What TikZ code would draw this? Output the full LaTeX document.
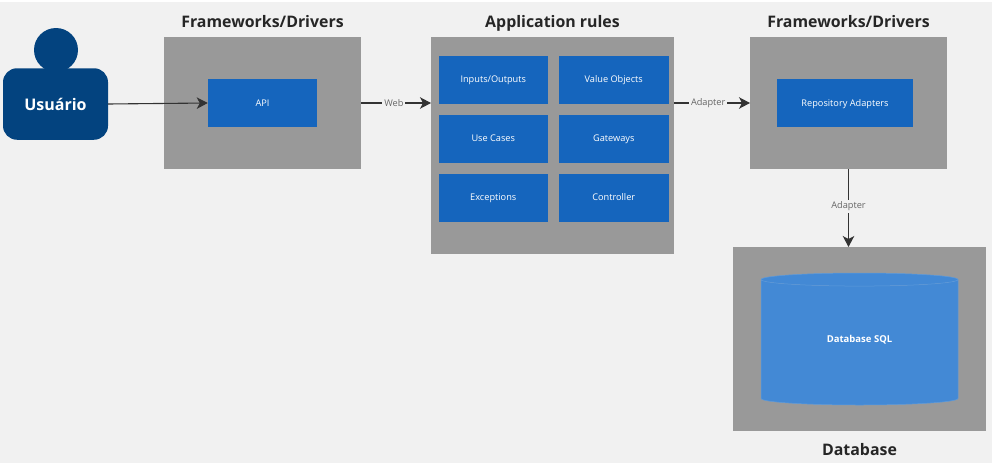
\documentclass[tikz,border=0pt]{standalone}
\usepackage{xcolor}
\usepackage{fontspec}
\setmainfont{Open Sans}
\usetikzlibrary{shapes.geometric, arrows.meta, positioning}
\definecolor{pagebg}{HTML}{F1F1F1}
\definecolor{layergray}{HTML}{999999}
\definecolor{moduleblue}{HTML}{1565BD}
\definecolor{userblue}{HTML}{03437F}
\definecolor{dbblue}{HTML}{4389D5}
\definecolor{inkgray}{HTML}{333333}
\tikzstyle{arrow} = [line width=1.1pt,-{Stealth[length=11pt,width=11.5pt,inset=3pt]},color=inkgray]

\begin{document}
\begin{tikzpicture}[
    layer/.style={rectangle, fill=layergray, inner sep=0pt, outer sep=0pt},
    module/.style={rectangle, fill=moduleblue, text=white, inner sep=0pt, outer sep=0pt, minimum width=109.5pt, minimum height=48.5pt, text height=7.5pt, text depth=1.5pt, font=\fontsize{9.2}{11}\selectfont},
    heading/.style={font=\fontsize{15.9}{18}\selectfont\bfseries, text=black!85, inner sep=0pt, text height=12pt, text depth=3.5pt},
    edgelabel/.style={fill=pagebg, text=black!60, inner sep=2pt, font=\fontsize{9.2}{11}\selectfont},
    node distance=10.5pt and 11pt
  ]
    \fill[white] (0pt,0pt) rectangle (992pt,-463pt);
    \fill[pagebg] (0pt,-2pt) rectangle (992pt,-463pt);
    \useasboundingbox (0pt,0pt) rectangle (992pt,-463pt);

    % Frameworks left
    \node[layer, minimum width=197pt, minimum height=132pt] (fwleft) at (262.5pt,-103pt) {};
    \node[module, at=(fwleft)] (api) {API};
    \node[heading, above=6pt of fwleft] (fwlefttitle) {Frameworks/Drivers};

    % User
    \node[circle, fill=userblue, minimum size=44pt, inner sep=0pt] (head) at (56pt,-50pt) {};
    \node[rectangle, rounded corners=14pt, fill=userblue, text=white, minimum width=105pt, minimum height=71.5pt, inner sep=0pt, outer sep=0pt, font=\fontsize{16}{18}\selectfont\bfseries] (user) at (55.5pt,-104pt) {Usuário};

    % Application rules
    \node[layer, minimum width=243pt, minimum height=217pt, right=70pt of fwleft.north east, anchor=north west] (app) {};
    \node[heading, above=6pt of app] (apptitle) {Application rules};
    \node[module, anchor=north west] (inout) at ([xshift=7.5pt,yshift=-18.5pt]app.north west) {Inputs/Outputs};
    \node[module, right=of inout] (value) {Value Objects};
    \node[module, below=of inout] (usecases) {Use Cases};
    \node[module, right=of usecases] (gateways) {Gateways};
    \node[module, below=of usecases] (exceptions) {Exceptions};
    \node[module, right=of exceptions] (controller) {Controller};

    % Frameworks right
    \node[layer, minimum width=197pt, minimum height=132pt, right=76pt of app.north east, anchor=north west] (fwright) {};
    \node[module, minimum width=136pt, at=(fwright), xshift=-3.5pt] (repo) {Repository Adapters};
    \node[heading, above=6pt of fwright] (fwrighttitle) {Frameworks/Drivers};

    % Database
    \node[layer, minimum width=253pt, minimum height=184pt, below=78pt of fwright, xshift=11pt] (db) {};
    \node[cylinder, shape border rotate=90, aspect=0.2, draw=dbblue!85!white, line width=0.5pt, cylinder uses custom fill, cylinder body fill=dbblue, cylinder end fill=dbblue, text=white, minimum width=197pt, minimum height=132pt, inner sep=0pt, outer sep=0pt, anchor=shape center, at=(db), text height=7pt, text depth=7pt, font=\fontsize{9.5}{11}\selectfont\bfseries] (sql) {Database SQL};
    \node[heading, below=12pt of db] (dbtitle) {Database};

    \draw[arrow] (user.east) -- (api.west);
    \draw[arrow] (fwleft.east) -- node[edgelabel, pos=0.47] (web) {Web} (fwleft.east -| app.west);
    \draw[arrow] (app.east |- fwright) -- node[edgelabel, pos=0.45] (adapterh) {Adapter} (fwright.west);
    \draw[arrow] (fwright.south) -- node[edgelabel, pos=0.48] (adapterv) {Adapter} (fwright.south |- db.north);
  \end{tikzpicture}
\end{document}
